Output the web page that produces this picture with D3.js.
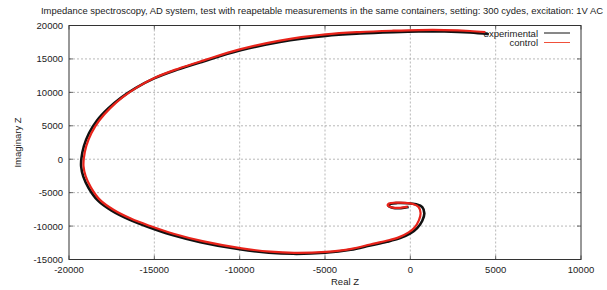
<!DOCTYPE html>
<html>
<head>
<meta charset="utf-8">
<script src="https://cdn.jsdelivr.net/npm/d3@7"></script>
<style>
  body { margin: 0; background: #fff; }
  svg { display: block; font-family: "Liberation Sans", Arial, sans-serif; }
  .tick-label { font-size: 9.5px; fill: #222; }
  .grid line { stroke: #999; stroke-dasharray: 2,2; stroke-width: 0.7; }
</style>
</head>
<body>
<div id="chart"></div>
<script>
// Nyquist-style plot (ohms).
const title = "Impedance spectroscopy, AD system, test with reapetable measurements in the same containers, setting: 300 cydes, excitation: 1V AC";
const xTicks = [-20000, -15000, -10000, -5000, 0, 5000, 10000];
const yTicks = [-15000, -10000, -5000, 0, 5000, 10000, 15000, 20000];
const seriesNames = ["experimental", "control"];

const experimentalRe = [4600, 3500, 2000, 500, -1000, -2950, -4960, -7640, -10000,
  -12130, -13690, -15010, -16080, -16960, -17720, -18370, -18830, -19130, -19270, -19290, -19160,
  -18850, -18300, -17500, -16500, -15400, -14000, -12300, -10000, -8300, -6870, -5000, -3500, -2350, -1370, -600, 0,
  400, 700, 820, 700, 350, -200, -750, -1150, -1280, -1050, -550, -100];
const experimentalIm = [18700, 18950, 19100, 19100, 19000, 18800, 18450, 17550, 16250,
  14630, 13360, 12090, 10670, 9180, 7540, 5750, 3880, 1940, 150, -1050, -2610,
  -4300, -6200, -7700, -9000, -10100, -11300, -12400, -13480, -13980, -14150, -14000, -13550, -12900, -12350, -11800, -11100,
  -10300, -9200, -8100, -7150, -6750, -6580, -6560, -6680, -6950, -7250, -7330, -7150];
const controlRe = [4400, 3500, 2000, 500, -1000, -2950, -4960, -7640, -10000,
  -12100, -13640, -14940, -15990, -16850, -17600, -18230, -18690, -18990, -19130, -19150, -19020,
  -18710, -18170, -17370, -16380, -15280, -13880, -12180, -9880, -8200, -6800, -4950, -3450, -2350, -1400, -650, -100,
  250, 500, 600, 480, 150, -300, -850, -1250, -1330, -1100, -600, -150];
const controlIm = [19000, 19180, 19320, 19320, 19220, 19020, 18660, 17740, 16420,
  14780, 13500, 12220, 10780, 9270, 7600, 5790, 3900, 1950, 150, -1030, -2570,
  -4240, -6120, -7600, -8880, -9960, -11150, -12250, -13330, -13830, -14000, -13850, -13400, -12750, -12200, -11650, -10950,
  -10200, -9150, -8050, -7150, -6700, -6520, -6500, -6620, -6900, -7200, -7280, -7100];

const W = 607, H = 290;
const m = { left: 69, right: 26, top: 25.5, bottom: 30.5 };
const iW = W - m.left - m.right, iH = H - m.top - m.bottom;

const x = d3.scaleLinear([-20000, 10000], [m.left, m.left + iW]);
const y = d3.scaleLinear([-15000, 20000], [m.top + iH, m.top]);

const svg = d3.select("#chart").append("svg")
  .attr("width", W).attr("height", H);

// dashed grid
const grid = svg.append("g").attr("class", "grid");
grid.selectAll("line.gx").data(xTicks.slice(1, -1)).join("line")
  .attr("x1", (d) => x(d)).attr("x2", (d) => x(d))
  .attr("y1", m.top).attr("y2", m.top + iH);
grid.selectAll("line.gy").data(yTicks.slice(1, -1)).join("line")
  .attr("class", "gy")
  .attr("x1", m.left).attr("x2", m.left + iW)
  .attr("y1", (d) => y(d)).attr("y2", (d) => y(d));

// inward ticks on all four sides, gnuplot style
const tk = svg.append("g").attr("stroke", "#444").attr("stroke-width", 0.8);
xTicks.forEach((v) => {
  tk.append("line").attr("x1", x(v)).attr("x2", x(v)).attr("y1", m.top + iH).attr("y2", m.top + iH - 4);
  tk.append("line").attr("x1", x(v)).attr("x2", x(v)).attr("y1", m.top).attr("y2", m.top + 4);
});
yTicks.forEach((v) => {
  tk.append("line").attr("x1", m.left).attr("x2", m.left + 4).attr("y1", y(v)).attr("y2", y(v));
  tk.append("line").attr("x1", m.left + iW).attr("x2", m.left + iW - 4).attr("y1", y(v)).attr("y2", y(v));
});

svg.append("g").selectAll("text").data(xTicks).join("text")
  .attr("class", "tick-label")
  .attr("x", (d) => x(d)).attr("y", m.top + iH + 13)
  .attr("text-anchor", "middle")
  .text((d) => d);
svg.append("g").selectAll("text").data(yTicks).join("text")
  .attr("class", "tick-label")
  .attr("x", m.left - 6).attr("y", (d) => y(d) + 3.5)
  .attr("text-anchor", "end")
  .text((d) => d);

// curves
const line = d3.line()
  .x((d) => x(d[0])).y((d) => y(d[1]))
  .curve(d3.curveCatmullRom.alpha(0.5));
const expPts = experimentalRe.map((v, i) => [v, experimentalIm[i]]);
const ctlPts = controlRe.map((v, i) => [v, controlIm[i]]);

svg.append("path").datum(expPts).attr("d", line)
  .attr("fill", "none").attr("stroke", "#111").attr("stroke-width", 2.6)
  .attr("stroke-linejoin", "round");
svg.append("path").datum(ctlPts).attr("d", line)
  .attr("fill", "none").attr("stroke", "#e8231a").attr("stroke-width", 2.2)
  .attr("stroke-linejoin", "round");

// border
svg.append("rect")
  .attr("x", m.left).attr("y", m.top).attr("width", iW).attr("height", iH)
  .attr("fill", "none").attr("stroke", "#333").attr("stroke-width", 1);

// legend
const legColors = ["#111", "#f0503a"];
const leg = svg.append("g");
seriesNames.forEach((name, i) => {
  const ly = 33 + i * 9.5;
  leg.append("text").attr("class", "tick-label")
    .attr("x", 538).attr("y", ly + 3.5).attr("text-anchor", "end").text(name);
  leg.append("line").attr("x1", 544).attr("x2", 570).attr("y1", ly).attr("y2", ly)
    .attr("stroke", legColors[i]).attr("stroke-width", 1);
});

// titles
svg.append("text").attr("class", "tick-label")
  .attr("x", 322).attr("y", 14).attr("text-anchor", "middle")
  .attr("textLength", 562).attr("lengthAdjust", "spacingAndGlyphs")
  .text(title);
svg.append("text").attr("class", "tick-label")
  .attr("x", x(-5000) + 20).attr("y", 285).attr("text-anchor", "middle")
  .text("Real Z");
svg.append("text").attr("class", "tick-label")
  .attr("transform", `translate(21,${m.top + iH / 2}) rotate(-90)`)
  .attr("text-anchor", "middle")
  .text("Imaginary Z");
</script>
</body>
</html>
